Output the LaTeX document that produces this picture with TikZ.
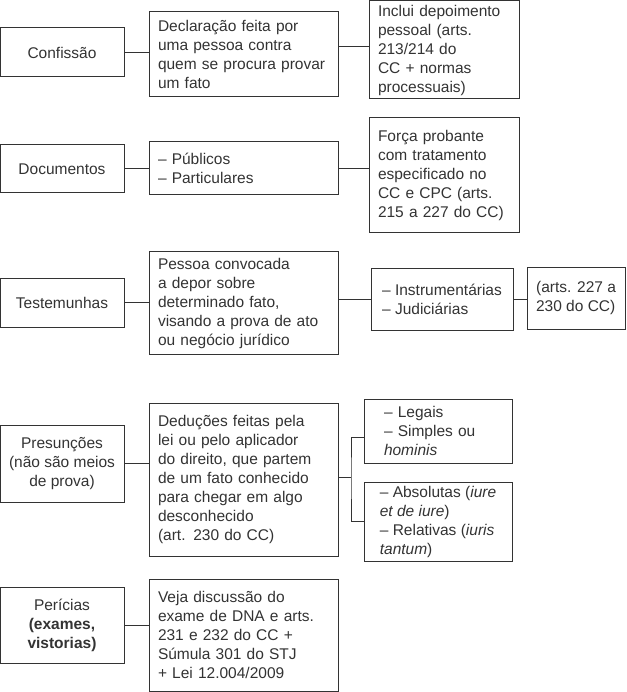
\documentclass[tikz,border=0pt]{standalone}
\usepackage{fontspec}
\setmainfont{Liberation Sans}
\definecolor{traco}{HTML}{333333}
\begin{document}
\begin{tikzpicture}[x=1pt, y=-1pt,
    rotulo/.style={draw=traco, text=traco, line width=1pt, align=center, minimum width=124pt, inner sep=0pt, font=\fontsize{15.5}{19}\selectfont},
    caixa/.style={draw=traco, text=traco, line width=1pt, align=left, inner xsep=9pt, inner ysep=0pt, font=\fontsize{15.5}{19}\selectfont},
    ligacao/.style={draw=traco, line width=1pt}]
        \useasboundingbox (0,0) rectangle (626,692);

        \node[rotulo, minimum height=49pt] (confissao) at (62,52.5) {Confissão};
        \node[caixa, text width=171pt, minimum height=85pt] (declaracao) at (243.5,54.5) {Declaração feita por\\uma pessoa contra\\quem se procura provar\\um fato};
        \node[caixa, text width=132pt, minimum height=98pt] (inclui) at (444,50) {Inclui depoimento\\pessoal (arts.\\213/214 do\\CC + normas\\processuais)};
        \draw[ligacao] (confissao.east) -- (confissao.east -| declaracao.west);
        \draw[ligacao] ([yshift=3pt]inclui.west -| declaracao.east) -- ([yshift=3pt]inclui.west);

        \node[rotulo, minimum height=48pt] (documentos) at (62,169) {Documentos};
        \node[caixa, text width=171pt, minimum height=53pt] (publicos) at (243.5,168.5) {-- Públicos\\-- Particulares};
        \node[caixa, text width=132pt, minimum height=115pt] (forca) at (444,175.5) {Força probante\\com tratamento\\especificado no\\CC e CPC (arts.\\215 a 227 do CC)};
        \draw[ligacao] (documentos.east) -- (documentos.east -| publicos.west);
        \draw[ligacao] (publicos.east) -- (publicos.east -| forca.west);

        \node[rotulo, minimum height=49pt] (testemunhas) at (62,302.5) {Testemunhas};
        \node[caixa, text width=171pt, minimum height=102pt] (pessoa) at (243.5,303) {Pessoa convocada\\a depor sobre\\determinado fato,\\visando a prova de ato\\ou negócio jurídico};
        \node[caixa, minimum width=142pt, minimum height=62pt] (instr) at (442,299) {-- Instrumentárias\\-- Judiciárias};
        \node[caixa, minimum width=98pt, minimum height=62pt] (arts) at (576,298) {(arts. 227 a\\230 do CC)};
        \draw[ligacao] (testemunhas.east) -- (testemunhas.east -| pessoa.west);
        \draw[ligacao] (instr.west -| pessoa.east) -- (instr.west);
        \draw[ligacao] (instr.east) -- (instr.east -| arts.west);

        \node[rotulo, minimum height=77pt] (presuncoes) at (62,463.5) {Presunções\\(não são meios\\de prova)};
        \node[caixa, text width=171pt, minimum height=153pt] (deducoes) at (243.5,479.5) {Deduções feitas pela\\lei ou pelo aplicador\\do direito, que partem\\de um fato conhecido\\para chegar em algo\\desconhecido\\(art. 230 do CC)};
        \node[caixa, text width=108pt, minimum width=148pt, minimum height=64pt] (legais) at (438,431) {-- Legais\\-- Simples ou\\\textit{hominis}};
        \node[caixa, minimum width=148pt, minimum height=79pt] (absolutas) at (438,521.5) {-- Absolutas (\textit{iure}\\\textit{et de iure})\\-- Relativas (\textit{iuris}\\\textit{tantum})};
        \coordinate (chave) at (351,477);
        \draw[ligacao] (presuncoes.east) -- (presuncoes.east -| deducoes.west);
        \draw[ligacao] (chave -| deducoes.east) -- (chave);
        \draw[ligacao] ([yshift=-6pt]legais.west) -| (chave) |- (absolutas.west);

        \node[rotulo, minimum height=76pt] (pericias) at (62,625) {Perícias\\\textbf{(exames,}\\\textbf{vistorias)}};
        \node[caixa, text width=171pt, minimum height=112pt] (veja) at (243.5,635) {Veja discussão do\\exame de DNA e arts.\\231 e 232 do CC +\\Súmula 301 do STJ\\+ Lei 12.004/2009};
        \draw[ligacao] (pericias.east) -- (pericias.east -| veja.west);
\end{tikzpicture}
\end{document}
